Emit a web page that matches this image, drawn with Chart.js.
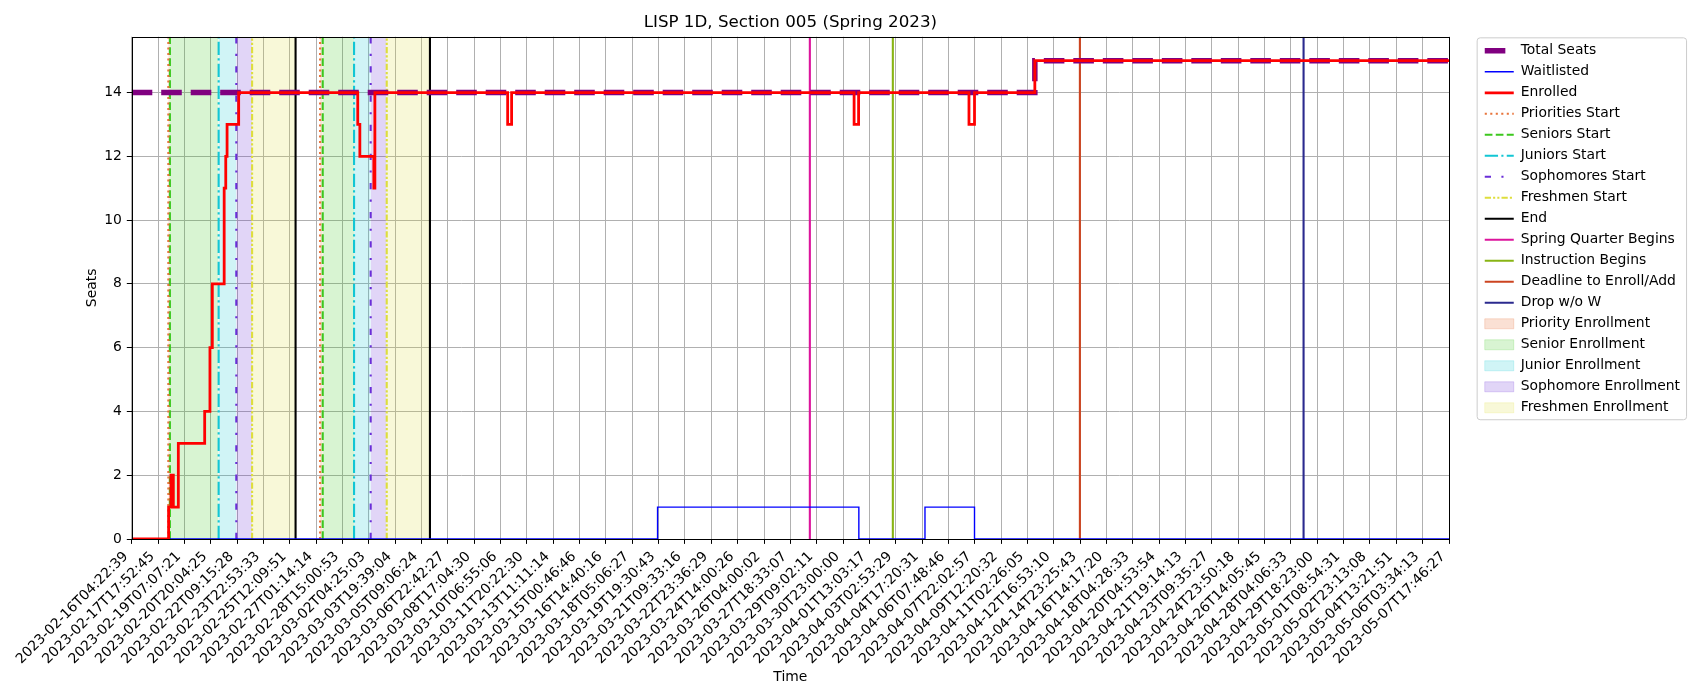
<!DOCTYPE html>
<html>
<head>
<meta charset="utf-8">
<title>LISP 1D, Section 005 (Spring 2023)</title>
<script src="https://cdn.jsdelivr.net/npm/chart.js@4.4.1/dist/chart.umd.min.js"></script>
<style>
  html, body { margin: 0; padding: 0; background: #fff; }
  #wrap { width: 1700px; height: 700px; position: relative; }
</style>
</head>
<body>
<div id="wrap"><canvas id="seats-chart"></canvas></div>
<script>
const tickLabels = [
  "2023-02-16T04:22:39", "2023-02-17T17:52:45", "2023-02-19T07:07:21", "2023-02-20T20:04:25",
  "2023-02-22T09:15:28", "2023-02-23T22:53:33", "2023-02-25T12:09:51", "2023-02-27T01:14:14",
  "2023-02-28T15:00:53", "2023-03-02T04:25:03", "2023-03-03T19:39:04", "2023-03-05T09:06:24",
  "2023-03-06T22:42:27", "2023-03-08T17:04:30", "2023-03-10T06:55:06", "2023-03-11T20:22:30",
  "2023-03-13T11:11:14", "2023-03-15T00:46:46", "2023-03-16T14:40:16", "2023-03-18T05:06:27",
  "2023-03-19T19:30:43", "2023-03-21T09:33:16", "2023-03-22T23:36:29", "2023-03-24T14:00:26",
  "2023-03-26T04:00:02", "2023-03-27T18:33:07", "2023-03-29T09:02:11", "2023-03-30T23:00:00",
  "2023-04-01T13:03:17", "2023-04-03T02:53:29", "2023-04-04T17:20:31", "2023-04-06T07:48:46",
  "2023-04-07T22:02:57", "2023-04-09T12:20:32", "2023-04-11T02:26:05", "2023-04-12T16:53:10",
  "2023-04-14T23:25:43", "2023-04-16T14:17:20", "2023-04-18T04:28:33", "2023-04-20T04:53:54",
  "2023-04-21T19:14:13", "2023-04-23T09:35:27", "2023-04-24T23:50:18", "2023-04-26T14:05:45",
  "2023-04-28T04:06:33", "2023-04-29T18:23:00", "2023-05-01T08:54:31", "2023-05-02T23:13:08",
  "2023-05-04T13:21:51", "2023-05-06T03:34:13", "2023-05-07T17:46:27"
];
const yTicks = [0, 2, 4, 6, 8, 10, 12, 14];

// x is measured in tick steps (0 = first tick label), values hold until the next x
const seatsX = [0, 34.28, 50];
const seatsY = [14, 15, 15];

const waitlistX = [0, 19.96, 27.60, 30.11, 31.99, 50];
const waitlistY = [0, 1, 0, 1, 0, 0];

const enrolledX = [0, 1.40, 1.49, 1.58, 1.77, 2.77, 2.97, 3.06, 3.51, 3.57, 3.62, 4.06,
  8.58, 8.66, 9.19, 9.23, 14.27, 14.42, 27.42, 27.59, 31.78, 31.99, 34.28, 50];
const enrolledY = [0, 1, 2, 1, 3, 4, 6, 8, 11, 12, 13, 14,
  13, 12, 11, 14, 13, 14, 13, 14, 13, 14, 15, 15];

// enrollment phases (two passes)
const prioritiesStart = [1.39, 7.15];
const seniorsStart = [1.45, 7.25];
const juniorsStart = [3.30, 8.44];
const sophomoresStart = [3.97, 9.07];
const freshmenStart = [4.57, 9.68];
const endTimes = [6.22, 11.32];

const springBegins = [25.74];
const instructionBegins = [28.89];
const enrollDeadline = [35.99];
const dropNoW = [44.48];

const Y_TOP = 15.75;

Chart.defaults.font.family = "'DejaVu Sans', sans-serif";
Chart.defaults.font.size = 13.9;
Chart.defaults.color = '#000';

function steps(xs, ys) {
  return xs.map(function(x, i) { return {x: x, y: ys[i]}; });
}

function vlines(xs) {
  let pts = [];
  xs.forEach(function(x) {
    pts.push({x: x, y: 0}, {x: x, y: Y_TOP}, {x: x, y: null});
  });
  return pts;
}

function spans(starts, ends) {
  let pts = [];
  starts.forEach(function(s, i) {
    pts.push({x: s, y: Y_TOP}, {x: ends[i], y: Y_TOP}, {x: ends[i], y: null});
  });
  return pts;
}

function lineSet(label, data, color, width, dash, order, stepped) {
  return {
    label: label, data: data,
    borderColor: color, backgroundColor: color,
    borderWidth: width, borderDash: dash,
    pointRadius: 0, fill: false, spanGaps: false,
    stepped: stepped || false, order: order
  };
}

function spanSet(label, data, color) {
  return {
    label: label, data: data,
    borderColor: color, backgroundColor: color, borderWidth: 0,
    pointRadius: 0, fill: 'origin', spanGaps: false, order: 4, isSpan: true
  };
}

const legendFrame = {
  id: 'legendFrame',
  beforeDraw: function(chart) {
    const lg = chart.legend;
    if (!lg || !lg.legendHitBoxes || !lg.legendHitBoxes.length) return;
    const hb = lg.legendHitBoxes;
    const last = hb[hb.length - 1];
    const x0 = lg.left - 1;
    const y0 = hb[0].top - 6.5;
    const x1 = Math.max.apply(null, hb.map(function(b) { return b.left + b.width; })) + 6;
    const y1 = last.top + last.height + 4.5;
    const ctx = chart.ctx;
    ctx.save();
    ctx.beginPath();
    if (ctx.roundRect) ctx.roundRect(x0 + 0.5, y0 + 0.5, x1 - x0, y1 - y0, 3);
    else ctx.rect(x0 + 0.5, y0 + 0.5, x1 - x0, y1 - y0);
    ctx.fillStyle = 'rgba(255,255,255,0.8)';
    ctx.fill();
    ctx.strokeStyle = '#cccccc';
    ctx.lineWidth = 1;
    ctx.stroke();
    ctx.restore();
  }
};

const axesFrame = {
  id: 'axesFrame',
  afterDatasetsDraw: function(chart) {
    const a = chart.chartArea;
    const ctx = chart.ctx;
    ctx.save();
    ctx.strokeStyle = '#000';
    ctx.lineWidth = 1;
    ctx.strokeRect(Math.round(a.left) + 0.5, Math.round(a.top) + 0.5,
      Math.round(a.right - a.left), Math.round(a.bottom - a.top));
    ctx.restore();
  }
};

new Chart(document.getElementById('seats-chart'), {
  type: 'line',
  data: {
    datasets: [
      lineSet('Total Seats', steps(seatsX, seatsY), '#800080', 5.5, [20.6, 8.9], 1, 'before'),
      lineSet('Waitlisted', steps(waitlistX, waitlistY), '#0000ff', 1.4, [], 2, 'before'),
      lineSet('Enrolled', steps(enrolledX, enrolledY), '#ff0000', 2.8, [], 0, 'before'),
      lineSet('Priorities Start', vlines(prioritiesStart), '#e8743b', 2.1, [2.1, 3.4], 3),
      lineSet('Seniors Start', vlines(seniorsStart), '#3cc81e', 2.1, [7.7, 3.3], 3),
      lineSet('Juniors Start', vlines(juniorsStart), '#12c6d4', 2.1, [13.3, 3.3, 2.1, 3.3], 3),
      lineSet('Sophomores Start', vlines(sophomoresStart), '#6a2ed8', 2.1, [6.25, 10.4, 2.1, 10.4], 3),
      lineSet('Freshmen Start', vlines(freshmenStart), '#dede3c', 2.1, [6.25, 2.1, 2.1, 2.1, 2.1, 2.1], 3),
      lineSet('End', vlines(endTimes), '#000000', 2.1, [], 3),
      lineSet('Spring Quarter Begins', vlines(springBegins), '#dc149c', 2.1, [], 3),
      lineSet('Instruction Begins', vlines(instructionBegins), '#88b414', 2.1, [], 3),
      lineSet('Deadline to Enroll/Add', vlines(enrollDeadline), '#cc4420', 2.1, [], 3),
      lineSet('Drop w/o W', vlines(dropNoW), '#2b2a8e', 2.1, [], 3),
      spanSet('Priority Enrollment', spans(prioritiesStart, seniorsStart), 'rgba(232,116,59,0.22)'),
      spanSet('Senior Enrollment', spans(seniorsStart, juniorsStart), 'rgba(60,200,30,0.2)'),
      spanSet('Junior Enrollment', spans(juniorsStart, sophomoresStart), 'rgba(18,198,212,0.2)'),
      spanSet('Sophomore Enrollment', spans(sophomoresStart, freshmenStart), 'rgba(106,46,216,0.2)'),
      spanSet('Freshmen Enrollment', spans(freshmenStart, endTimes), 'rgba(222,222,60,0.2)')
    ]
  },
  options: {
    responsive: true,
    maintainAspectRatio: false,
    animation: false,
    events: [],
    layout: { padding: { left: 80, right: 17.35, top: 0, bottom: 10 } },
    scales: {
      x: {
        type: 'linear', min: 0, max: tickLabels.length - 1,
        afterBuildTicks: function(s) { s.ticks = tickLabels.map(function(t, i) { return {value: i}; }); },
        afterFit: function(s) { s.height = 151; },
        grid: { color: '#b0b0b0', lineWidth: 1, tickLength: 4.9, tickColor: '#000', tickWidth: 1 },
        border: { display: false },
        ticks: {
          autoSkip: false, minRotation: 45, maxRotation: 45,
          padding: 4.7, labelOffset: -5.7,
          callback: function(v) { return tickLabels[v]; }
        },
        title: { display: true, text: 'Time', padding: { top: 0, bottom: 4.7 } }
      },
      y: {
        min: 0, max: Y_TOP,
        afterBuildTicks: function(s) { s.ticks = yTicks.map(function(v) { return {value: v}; }); },
        afterFit: function(s) { s.width = 51.7; },
        grid: { color: '#b0b0b0', lineWidth: 1, tickLength: 4.9, tickColor: '#000', tickWidth: 1 },
        border: { display: false },
        ticks: { padding: 4.9 },
        title: { display: true, text: 'Seats', padding: { top: 3.7, bottom: 0 } }
      },
      y2: {
        position: 'right',
        grid: { display: false },
        border: { display: false },
        ticks: { display: false },
        afterFit: function(s) { s.width = 28.65; }
      }
    },
    plugins: {
      title: {
        display: true, text: 'LISP 1D, Section 005 (Spring 2023)', fullSize: false,
        font: { size: 16.7, weight: 'normal' }, padding: { top: 12.5, bottom: 4.2 }
      },
      legend: {
        position: 'right', align: 'start', fullSize: false, maxWidth: 205,
        labels: {
          usePointStyle: true, pointStyleWidth: 29, boxHeight: 10, padding: 7.1,
          generateLabels: function(chart) {
            return chart.data.datasets.map(function(ds, i) {
              return {
                text: ds.label, datasetIndex: i, hidden: false, fontColor: '#000',
                fillStyle: ds.backgroundColor, strokeStyle: ds.borderColor,
                lineWidth: ds.isSpan ? 1 : ds.borderWidth,
                lineDash: ds.borderDash || [],
                pointStyle: ds.isSpan ? 'rect' : 'line'
              };
            });
          }
        }
      },
      tooltip: { enabled: false }
    }
  },
  plugins: [legendFrame, axesFrame]
});
</script>
</body>
</html>
